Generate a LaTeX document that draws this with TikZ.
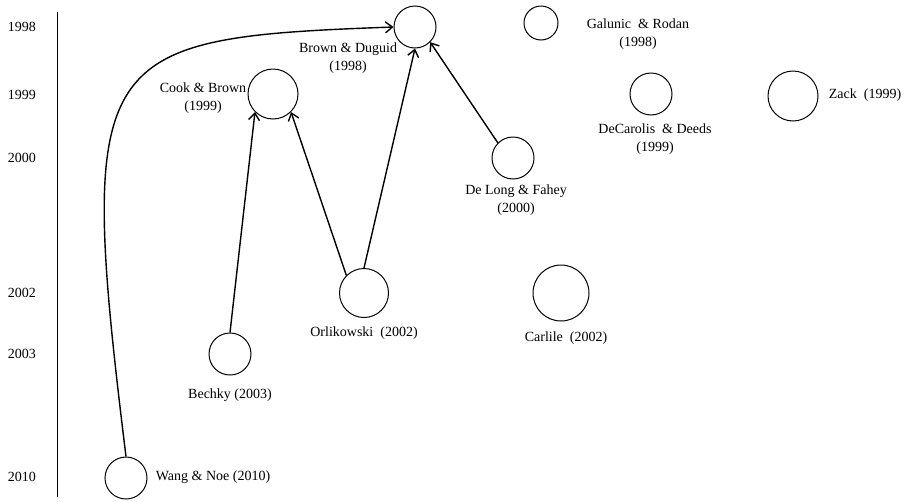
\documentclass[tikz,border=0pt]{standalone}
\usepackage{fontspec}
\setmainfont{Liberation Serif}
\usetikzlibrary{arrows.meta}

\begin{document}
\begin{tikzpicture}[x=1pt, y=-1pt,
    paper/.style={draw, circle, line width=1pt, inner sep=0pt, minimum size=#1},
    cite/.style={align=center, font=\fontsize{14}{18}\selectfont},
    link/.style={line width=1.4pt, -{Straight Barb[length=7pt,width=11pt]}}]
  \useasboundingbox (0,0) rectangle (910,501);
  % time axis
  \draw[line width=1pt] (57,12) coordinate (axtop) -- (57,497) coordinate (axbot);
  \foreach \yr/\y in {1998/27, 1999/95, 2000/158, 2002/293, 2003/354, 2010/477}
    \node[cite] (y\yr) at (22,\y) {\yr};

  % papers
  \node[paper=42pt] (brown)     at (415,27)  {};
  \node[paper=50pt] (cook)      at (273,94)  {};
  \node[paper=34pt] (galunic)   at (541,23)  {};
  \node[paper=42pt] (decarolis) at (651,94)  {};
  \node[paper=50pt] (zack)      at (793,96)  {};
  \node[paper=42pt] (delong)    at (513,158) {};
  \node[paper=49pt] (orlik)     at (364,293) {};
  \node[paper=56pt] (carlile)   at (561,293) {};
  \node[paper=42pt] (bechky)    at (230,354) {};
  \node[paper=42pt] (wang)      at (126,478) {};

  % names
  \node[cite] (browntxt)     at (348,58)  {Brown \& Duguid\\(1998)};
  \node[cite] (cooktxt)      at (203,98)  {Cook \& Brown\\(1999)};
  \node[cite] (galunictxt)   at (638,34)  {Galunic\ \ \& Rodan\\(1998)};
  \node[cite] (decarolistxt) at (655,139) {DeCarolis\ \ \& Deeds\\(1999)};
  \node[cite] (zacktxt)      at (865,95)  {Zack\ \ (1999)};
  \node[cite] (delongtxt)    at (516,200) {De Long \& Fahey\\(2000)};
  \node[cite] (orliktxt)     at (364,333) {Orlikowski\ \ (2002)};
  \node[cite] (carliletxt)   at (566,338) {Carlile\ \ (2002)};
  \node[cite] (bechkytxt)    at (230,395) {Bechky (2003)};
  \node[cite] (wangtxt)      at (213,477) {Wang \& Noe (2010)};

  % citations
  \draw[link] (bechky.north) -- (cook.225);
  \draw[link] (orlik.135) -- (cook.315);
  \draw[link] (orlik.north) -- (brown.south);
  \draw[link] (delong.135) -- (brown.315);
  \draw[link] (wang.north) .. controls (76,50) and (92,38) .. (brown.west);
\end{tikzpicture}
\end{document}
